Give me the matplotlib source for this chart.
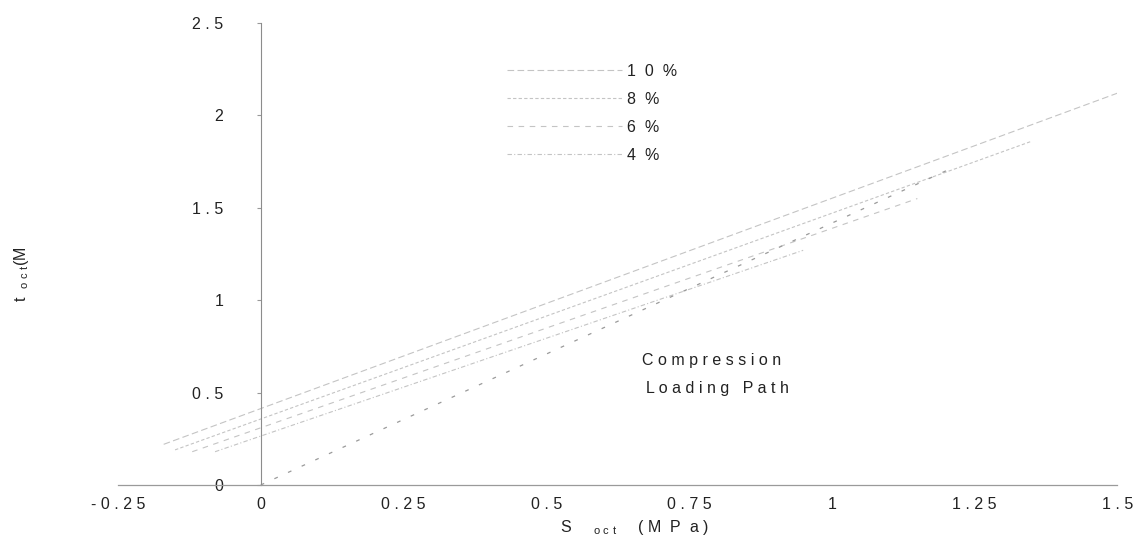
import matplotlib
matplotlib.use("Agg")
import matplotlib.pyplot as plt

plt.rcParams["font.family"] = ["Liberation Sans", "DejaVu Sans"]

# failure envelopes (s_oct, t_oct in MPa)
x10 = [-0.17, 1.50]
y10 = [0.22, 2.12]
x8 = [-0.15, 1.35]
y8 = [0.19, 1.86]
x6 = [-0.12, 1.15]
y6 = [0.18, 1.55]
x4 = [-0.08, 0.95]
y4 = [0.18, 1.27]
labels = ["1  0  %", "8  %", "6  %", "4  %"]

# compression loading path
x_path = [0.0, 1.2]
y_path = [0.0, 1.70]

xticks = [-0.25, 0, 0.25, 0.5, 0.75, 1, 1.25, 1.5]
xticklabels = ["- 0 . 2 5", "0", "0 . 2 5", "0 . 5", "0 . 7 5", "1", "1 . 2 5", "1 . 5"]
yticks = [0, 0.5, 1, 1.5, 2, 2.5]
yticklabels = ["0", "0 . 5", "1", "1 . 5", "2", "2 . 5"]

fig = plt.figure(figsize=(11.4, 5.48), dpi=100)
ax = fig.add_axes([0.1035, 0.115, 0.8765, 0.843])

styles = [(0, (6, 3)), (0, (3, 2)), (0, (5, 5)), (0, (4, 2, 1, 2))]
for (xs, ys), lab, ls in zip([(x10, y10), (x8, y8), (x6, y6), (x4, y4)], labels, styles):
    ax.plot(xs, ys, color="#c4c4c4", lw=0.8, linestyle=ls, label=lab)

ax.plot(x_path, y_path, color="#9a9a9a", lw=0.9, linestyle=(0, (3, 9)))

ax.set_xlim(-0.25, 1.5)
ax.set_ylim(0, 2.5)

for s in ["top", "right"]:
    ax.spines[s].set_visible(False)
ax.spines["left"].set_position(("data", 0))
ax.spines["left"].set_color("#8c8c8c")
ax.spines["left"].set_linestyle((0, (4, 1)))
ax.spines["left"].set_linewidth(0.8)
ax.spines["bottom"].set_color("#9a9a9a")
ax.spines["bottom"].set_linestyle((0, (6, 1)))
ax.spines["bottom"].set_linewidth(0.9)

ax.set_xticks(xticks)
ax.set_xticklabels(xticklabels)
ax.set_yticks(yticks)
ax.set_yticklabels(yticklabels)
ax.tick_params(axis="x", length=0, pad=9, labelsize=11.5, labelcolor="#222222")
ax.tick_params(axis="y", length=3, color="#999999", pad=24, labelsize=11.5, labelcolor="#222222")

ax.text(0.79, 0.65, "C o m p r e s s i o n", fontsize=11.5, color="#222222", ha="center")
ax.text(0.80, 0.50, "L o a d i n g   P a t h", fontsize=11.5, color="#222222", ha="center")

ax.legend(loc="upper left", bbox_to_anchor=(0.432, 0.91), bbox_transform=fig.transFigure,
          frameon=False, handlelength=7.2, labelspacing=0.82, handletextpad=0.3,
          fontsize=11.5, labelcolor="#222222")

fig.text(0.557, 0.02, r"S     $_{\mathregular{o\ c\ t}}$     ( M  P  a )", fontsize=11.5,
         color="#222222", ha="center", va="bottom")
fig.text(0.019, 0.50, r"t  $_{\mathregular{o\ c\ t}}$(M", fontsize=11.5, color="#222222",
         rotation=90, ha="center", va="center")

fig.savefig("out.png", dpi=100)
